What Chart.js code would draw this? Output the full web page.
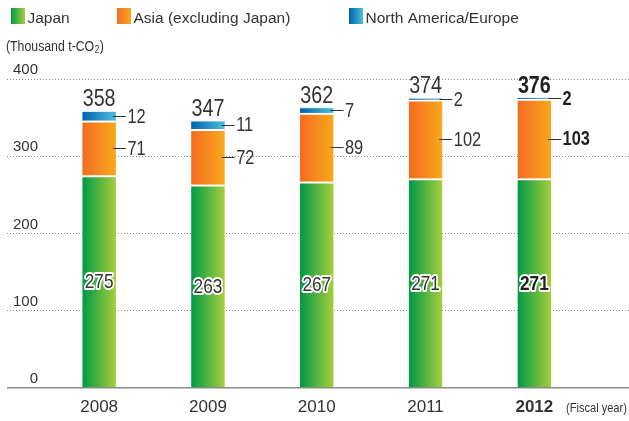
<!DOCTYPE html>
<html><head><meta charset="utf-8">
<script src="https://cdn.jsdelivr.net/npm/chart.js@4"></script>
<style>html,body{margin:0;padding:0;background:#fff}#wrap{width:629px;height:421px;position:relative}</style>
</head><body><div id="wrap"><canvas id="c" width="629" height="421"></canvas></div>
<script>
// ---- data ----
const years = ['2008', '2009', '2010', '2011', '2012'];
const japan = [275, 263, 267, 271, 271];
const asia = [71, 72, 89, 102, 103];
const northAmericaEurope = [12, 11, 7, 2, 2];
const totals = [358, 347, 362, 374, 376];
const seriesNames = ['Japan', 'Asia (excluding Japan)', 'North America/Europe'];
const yTicks = [0, 100, 200, 300, 400];
const unitText = '(Thousand t-CO';
const unitSub = '2';
const xNote = '(Fiscal year)';

// ---- style ----
const FONT = '"Liberation Sans", Arial, Helvetica, sans-serif';
const SX = 0.82; // horizontal condensing for drawn labels
const BAR_W = 33.5;
const X_MIN = -0.847, X_MAX = 4.870;
const COLORS = [['#009a46', '#a6ce3c'], ['#f36c22', '#f9a81c'], ['#0062ae', '#4cbfdc']];

function grad(c0, c1) {
  return (ctx) => {
    const chart = ctx.chart;
    const xs = chart.scales && chart.scales.x;
    if (!xs || ctx.dataIndex == null) return c0;
    const cx = xs.getPixelForValue(ctx.dataIndex);
    if (!isFinite(cx)) return c0;
    const g = chart.ctx.createLinearGradient(cx - BAR_W / 2, 0, cx + BAR_W / 2, 0);
    g.addColorStop(0, c0); g.addColorStop(1, c1);
    return g;
  };
}
const toPts = arr => arr.map((v, i) => ({x: i, y: v}));

function narrowText(c, text, x, y, size, bold, align, baseline, color, halo) {
  c.save();
  c.translate(x, y);
  c.scale(SX, 1);
  c.font = (bold ? 'bold ' : '') + size + 'px ' + FONT;
  c.textAlign = align; c.textBaseline = baseline;
  if (halo) {
    c.lineJoin = 'round'; c.lineWidth = 4; c.strokeStyle = '#fff';
    c.strokeText(text, 0, 0);
  }
  c.fillStyle = color;
  c.fillText(text, 0, 0);
  const w = c.measureText(text).width * SX;
  c.restore();
  return w;
}

const labelsPlugin = {
  id: 'labels',
  afterDatasetsDraw(chart) {
    const c = chart.ctx;
    const m0 = chart.getDatasetMeta(0), m1 = chart.getDatasetMeta(1), m2 = chart.getDatasetMeta(2);
    years.forEach((yr, i) => {
      const bold = i === years.length - 1;
      const b0 = m0.data[i], b1 = m1.data[i], b2 = m2.data[i];
      const right = b0.x + b0.width / 2;
      const col = bold ? '#231f20' : '#333';
      narrowText(c, String(totals[i]), b0.x, Math.min(b2.y, b1.y) - 5, 24, bold, 'center', 'alphabetic', col);
      [[b1, asia[i]], [b2, northAmericaEurope[i]]].forEach(([b, v]) => {
        const my = (b.y + b.base) / 2;
        c.save();
        c.strokeStyle = '#333'; c.lineWidth = 1;
        c.beginPath();
        c.moveTo(right - 3, Math.round(my) + 0.5);
        c.lineTo(right + 10, Math.round(my) + 0.5);
        c.stroke();
        c.restore();
        narrowText(c, String(v), right + 11.5, my + 1, 20, bold, 'left', 'middle', col);
      });
      const jy = (b0.y + b0.base) / 2;
      narrowText(c, String(japan[i]), b0.x, jy + 1, 21, bold, 'center', 'middle', col, true);
    });
  }
};

const decoPlugin = {
  id: 'deco',
  afterDraw(chart) {
    const c = chart.ctx;
    c.save();
    const boxX = [11, 117, 349];
    seriesNames.forEach((name, k) => {
      const x = boxX[k];
      const g = c.createLinearGradient(x, 0, x + 14, 0);
      g.addColorStop(0, COLORS[k][0]); g.addColorStop(1, COLORS[k][1]);
      c.fillStyle = g;
      c.fillRect(x, 8, 14, 16);
      c.fillStyle = '#333';
      c.font = '15.5px ' + FONT;
      c.textAlign = 'left'; c.textBaseline = 'alphabetic';
      c.fillText(name, x + 16.5, 22.7);
    });
    c.restore();
    let x = 6;
    x += narrowText(c, unitText, x, 50.5, 15, false, 'left', 'alphabetic', '#333');
    x += 0.5;
    x += narrowText(c, unitSub, x, 53, 10, false, 'left', 'alphabetic', '#333');
    x += 0.5;
    narrowText(c, ')', x, 50.5, 15, false, 'left', 'alphabetic', '#333');
    narrowText(c, xNote, 566, 408, 13.5, false, 'left', 'middle', '#333');
  }
};

new Chart(document.getElementById('c'), {
  type: 'bar',
  data: {
    datasets: [
      {label: seriesNames[0], data: toPts(japan), backgroundColor: grad(...COLORS[0]), borderColor: '#fff', borderWidth: {top: 2, left: 0, right: 0, bottom: 0}, borderSkipped: false, barThickness: BAR_W},
      {label: seriesNames[1], data: toPts(asia), backgroundColor: grad(...COLORS[1]), borderColor: '#fff', borderWidth: {top: 2, left: 0, right: 0, bottom: 0}, borderSkipped: false, barThickness: BAR_W},
      {label: seriesNames[2], data: toPts(northAmericaEurope), backgroundColor: grad(...COLORS[2]), borderColor: '#d8eff7', borderWidth: {top: 1, left: 0, right: 0, bottom: 0}, borderSkipped: false, barThickness: BAR_W}
    ]
  },
  options: {
    responsive: false,
    animation: false,
    layout: {padding: {top: 79, left: 7, right: 0, bottom: 0}},
    plugins: {legend: {display: false}, tooltip: {enabled: false}},
    scales: {
      x: {
        type: 'linear', min: X_MIN, max: X_MAX, bounds: 'data', offset: false, stacked: true,
        grid: {display: false, drawTicks: false}, border: {display: false},
        afterBuildTicks: s => { s.ticks = years.map((_, i) => ({value: i})); },
        afterFit: s => { s.height = 33; },
        ticks: {
          autoSkip: false, maxRotation: 0, minRotation: 0, padding: 9, color: '#333',
          callback: v => years[v] !== undefined ? years[v] : '',
          font: c => ({family: FONT, size: 17, weight: c.index === 4 ? 'bold' : 'normal'})
        }
      },
      y: {
        type: 'linear', stacked: true, min: 0, max: 400, bounds: 'data', position: 'left',
        afterBuildTicks: s => { s.ticks = yTicks.map(v => ({value: v})); },
        afterFit: s => { s.width = 0; },
        grid: {drawTicks: false, color: '#8a8a8a', lineWidth: c => (c.tick && c.tick.value === 0) ? 1.5 : 1},
        border: {display: false, dash: c => (c.tick && c.tick.value === 0) ? [] : [1, 2]},
        ticks: {mirror: true, crossAlign: 'far', padding: 6, labelOffset: -9, color: '#333', font: {family: FONT, size: 15}}
      }
    }
  },
  plugins: [labelsPlugin, decoPlugin]
});
</script>
</body></html>
